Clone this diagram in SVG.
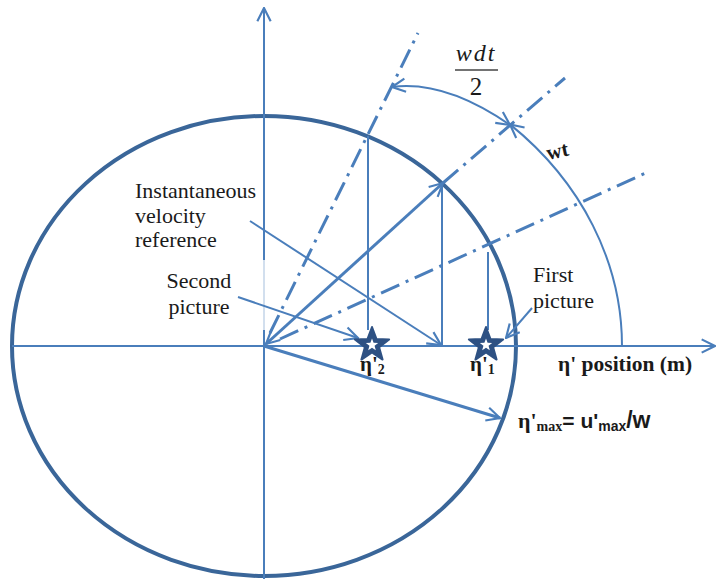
<svg xmlns="http://www.w3.org/2000/svg" width="716" height="579" viewBox="0 0 716 579">
<style>
.ln{fill:none;stroke:#4A7EBB;stroke-width:2}
.thk{fill:none;stroke:#4A7EBB;stroke-width:3}
.dd{fill:none;stroke:#4A7EBB;stroke-width:3;stroke-dasharray:20 7 3 7}
.ser{font-family:"Liberation Serif","Times New Roman",serif;fill:#1a1a1a}
.sb{font-family:"Liberation Serif","Times New Roman",serif;font-weight:bold;fill:#1a1a1a}
.sans{font-family:"Liberation Sans",Arial,sans-serif;font-weight:bold;fill:#1a1a1a}
</style>
<defs>
<marker id="ar2" viewBox="0 0 12 12" refX="11" refY="6" markerWidth="16" markerHeight="16" markerUnits="userSpaceOnUse" orient="auto-start-reverse">
<path d="M1,1 L11,6 L1,11" fill="none" stroke="#4A7EBB" stroke-width="1.6"/>
</marker>
<path id="star" d="M0,-18 L4.41,-6.07 L17.12,-5.56 L7.13,2.32 L10.58,14.56 L0,7.5 L-10.58,14.56 L-7.13,2.32 L-17.12,-5.56 L-4.41,-6.07 Z"/>
</defs>

<g id="ellipse">
<ellipse cx="264" cy="346" rx="252" ry="230" fill="none" stroke="#3A6699" stroke-width="4"/>
</g>

<g id="axes">
<line class="ln" x1="264" y1="579" x2="264" y2="330"/>
<line class="ln" x1="264" y1="330" x2="264" y2="260" stroke-opacity="0.25"/>
<line class="ln" x1="264" y1="260" x2="264" y2="8" marker-end="url(#ar2)"/>
<line class="ln" x1="12" y1="346" x2="715" y2="346" marker-end="url(#ar2)"/>
</g>

<g id="connectors">
<line class="dd" x1="270" y1="333" x2="418" y2="33"/>
<line class="dd" x1="443" y1="183" x2="565" y2="78"/>
<line class="dd" x1="280" y1="339" x2="650" y2="171"/>
<line class="thk" x1="266" y1="344" x2="443" y2="183" marker-start="url(#ar2)" marker-end="url(#ar2)"/>
<line class="ln" x1="368" y1="136" x2="368" y2="330"/>
<line class="ln" x1="442" y1="183" x2="442" y2="346"/>
<line class="ln" x1="488" y1="252" x2="488" y2="330"/>
<line class="ln" x1="250" y1="221" x2="441" y2="345" marker-end="url(#ar2)"/>
<line class="ln" x1="238" y1="297" x2="358" y2="338" marker-end="url(#ar2)"/>
<line class="ln" x1="532" y1="308" x2="506" y2="338" marker-end="url(#ar2)"/>
<line class="thk" x1="264" y1="346" x2="500" y2="418" marker-end="url(#ar2)"/>
<path class="ln" d="M622,346 A358,305 0 0,0 510,124.4" marker-end="url(#ar2)"/>
<path class="ln" d="M510,125 Q445,80 392,87" marker-start="url(#ar2)" marker-end="url(#ar2)"/>
</g>

<g id="star2">
<use href="#star" transform="translate(372,345)" fill="#2E5183" stroke="#2E5183" stroke-width="2" stroke-linejoin="round"/>
<use href="#star" transform="translate(372,345) scale(0.36)" fill="#ffffff"/>
</g>
<g id="star1">
<use href="#star" transform="translate(486,345)" fill="#2E5183" stroke="#2E5183" stroke-width="2" stroke-linejoin="round"/>
<use href="#star" transform="translate(486,345) scale(0.36)" fill="#ffffff"/>
</g>

<g id="labels">
<text class="ser" x="476" y="61" font-size="24" font-style="italic" text-anchor="middle" letter-spacing="2">wdt</text>
<line x1="455" y1="70" x2="498" y2="70" stroke="#444" stroke-width="1.3"/>
<text class="ser" x="476" y="95" font-size="25" text-anchor="middle">2</text>
<text class="sb" x="548" y="160" font-size="21" transform="rotate(-12 548 160)">wt</text>
<text class="ser" x="135" y="198" font-size="22">Instantaneous</text>
<text class="ser" x="135" y="223" font-size="22">velocity</text>
<text class="ser" x="135" y="247" font-size="22">reference</text>
<text class="ser" x="199" y="288" font-size="22" text-anchor="middle">Second</text>
<text class="ser" x="199" y="314" font-size="22" text-anchor="middle">picture</text>
<text class="ser" x="533" y="282" font-size="22">First</text>
<text class="ser" x="533" y="308" font-size="22">picture</text>
<text class="sb" x="558" y="371" font-size="21.5">η' position (m)</text>
<text class="sb" x="360" y="371" font-size="21">η'<tspan font-size="14" dy="3">2</tspan></text>
<text class="sb" x="470" y="371" font-size="21">η'<tspan font-size="14" dy="3">1</tspan></text>
<text x="518" y="428"><tspan class="sb" font-size="22">η'</tspan><tspan class="sb" font-size="14" dy="3">max</tspan><tspan class="sans" font-size="21" dy="-3">= u'</tspan><tspan class="sans" font-size="14" dy="3">max</tspan><tspan class="sans" font-size="23" dy="-3">/w</tspan></text>
</g>
</svg>
